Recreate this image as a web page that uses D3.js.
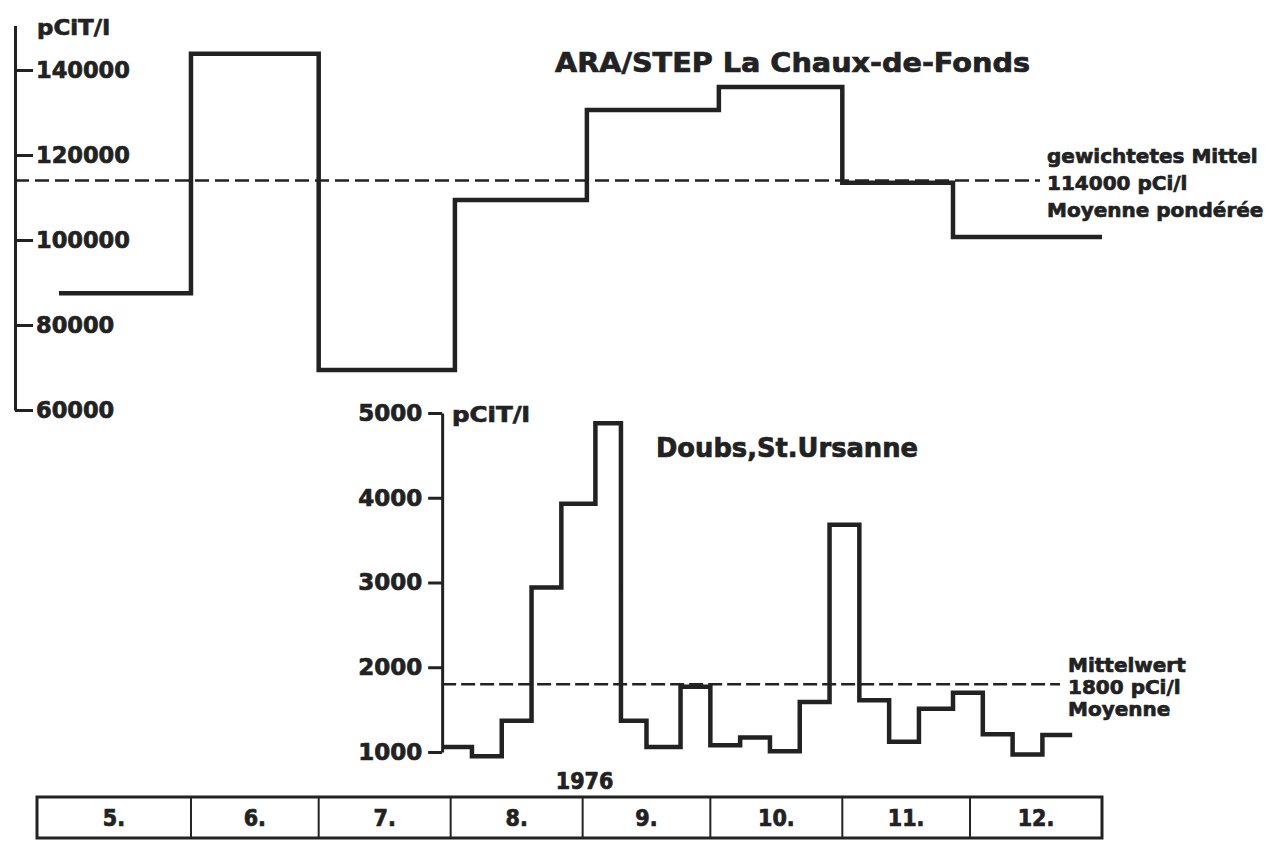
<!DOCTYPE html>
<html>
<head>
<meta charset="utf-8">
<script src="https://cdn.jsdelivr.net/npm/d3@7"></script>
<style>
  html, body { margin: 0; padding: 0; background: #ffffff; }
  svg { display: block; }
  text { font-family: "DejaVu Sans", "Liberation Sans", sans-serif; font-weight: bold; fill: #222;
         stroke: #222; stroke-width: 0.7px; }
  .cond { font-family: "DejaVu Sans Condensed", "Liberation Sans Narrow", "DejaVu Sans", sans-serif; }
</style>
</head>
<body>
<div id="chart"></div>
<script>
// ---------------- DATA ----------------
// Months shown in the bottom band (year 1976)
const months = ["5.", "6.", "7.", "8.", "9.", "10.", "11.", "12."];
const monthStarts = ["1976-05-01", "1976-06-01", "1976-07-01", "1976-08-01", "1976-09-01",
                     "1976-10-01", "1976-11-01", "1976-12-01", "1977-01-01"];
const yearLabel = "1976";

// ARA/STEP La Chaux-de-Fonds (sampling periods, pCi T/l)
const topBreaks = ["1976-05-01", "1976-06-01", "1976-07-01", "1976-08-02", "1976-09-02",
                   "1976-10-03", "1976-11-01", "1976-11-27", "1977-01-01"];
const topValues = [87500, 143800, 69400, 109400, 130600, 136000, 113500, 100700];
const topTicks = [60000, 80000, 100000, 120000, 140000];
const topMean = 114000;
const topTitle = "ARA/STEP La Chaux-de-Fonds";
const topMeanLabel = ["gewichtetes Mittel", "114000 pCi/l", "Moyenne pondérée"];

// Doubs, St. Ursanne (weekly samples, pCi T/l)
const botBreaks = ["1976-07-30", "1976-08-06", "1976-08-13", "1976-08-20", "1976-08-27",
                   "1976-09-04", "1976-09-10", "1976-09-16", "1976-09-24", "1976-10-01",
                   "1976-10-08", "1976-10-15", "1976-10-22", "1976-10-29", "1976-11-05",
                   "1976-11-12", "1976-11-19", "1976-11-27", "1976-12-04", "1976-12-11",
                   "1976-12-18", "1976-12-25"];
const botValues = [1060, 950, 1370, 2940, 3930, 4880, 1370, 1060, 1770, 1080,
                   1170, 1010, 1590, 3680, 1610, 1120, 1510, 1700, 1210, 970, 1200];
const botTicks = [1000, 2000, 3000, 4000, 5000];
const botMean = 1800;
const botTitle = "Doubs,St.Ursanne";
const botMeanLabel = ["Mittelwert", "1800 pCi/l", "Moyenne"];

const unitLabel = "pCiT/l";

// ---------------- LAYOUT ----------------
const W = 1272, H = 854;
const ink = "#222";
const parse = d3.utcParse("%Y-%m-%d");

const svg = d3.select("#chart").append("svg")
  .attr("width", W).attr("height", H)
  .style("background", "#fff");

const x = d3.scaleUtc()
  .domain([parse(monthStarts[0]), parse(monthStarts[monthStarts.length - 1])])
  .range([59, 1102]);

const yTop = d3.scaleLinear().domain([60000, 150500]).range([410, 25.4]);
const yBot = d3.scaleLinear().domain([1000, 5000]).range([752, 413]);

function stepPoints(breaks, values) {
  const pts = values.map((v, i) => ({ d: parse(breaks[i]), v }));
  pts.push({ d: parse(breaks[breaks.length - 1]), v: values[values.length - 1] });
  return pts;
}

// ---------- top axis ----------
const topAxisX = 15;
const gTopAxis = svg.append("g")
  .attr("transform", `translate(${topAxisX},0)`)
  .call(d3.axisRight(yTop).tickValues(topTicks).tickSize(18).tickSizeOuter(0)
        .tickPadding(3).tickFormat(d3.format("d")));
gTopAxis.select(".domain").attr("stroke", ink).attr("stroke-width", 3);
gTopAxis.selectAll(".tick line").attr("stroke", ink).attr("stroke-width", 3);
gTopAxis.selectAll(".tick text")
  .attr("fill", ink).attr("stroke", ink).attr("stroke-width", 0.7)
  .style("font-size", "22.5px").style("font-weight", "bold")
  .style("font-family", "DejaVu Sans, sans-serif");

svg.append("text").text(unitLabel)
  .attr("x", 37).attr("y", 35)
  .attr("textLength", 73).attr("lengthAdjust", "spacingAndGlyphs")
  .style("font-size", "22px");

// top mean line
svg.append("line")
  .attr("x1", topAxisX).attr("x2", 1040)
  .attr("y1", yTop(topMean)).attr("y2", yTop(topMean))
  .attr("stroke", ink).attr("stroke-width", 2.5).attr("stroke-dasharray", "14,6");

// top step line
const lineTop = d3.line().x(d => x(d.d)).y(d => yTop(d.v)).curve(d3.curveStepAfter);
svg.append("path")
  .datum(stepPoints(topBreaks, topValues))
  .attr("d", lineTop)
  .attr("fill", "none").attr("stroke", ink).attr("stroke-width", 4.5)
  .attr("stroke-linejoin", "miter");

svg.append("text").text(topTitle)
  .attr("x", 555).attr("y", 72)
  .attr("textLength", 475).attr("lengthAdjust", "spacingAndGlyphs")
  .style("font-size", "27px");

topMeanLabel.forEach((t, i) => {
  svg.append("text").text(t)
    .attr("x", 1047).attr("y", 163 + i * 27)
    .style("font-size", "20px");
});

// ---------- bottom axis ----------
const botAxisX = x(parse(botBreaks[0]));
const gBotAxis = svg.append("g")
  .attr("transform", `translate(${botAxisX},0)`)
  .call(d3.axisLeft(yBot).tickValues(botTicks).tickSize(14).tickSizeOuter(0)
        .tickPadding(6).tickFormat(d3.format("d")));
gBotAxis.select(".domain").attr("stroke", ink).attr("stroke-width", 3);
gBotAxis.selectAll(".tick line").attr("stroke", ink).attr("stroke-width", 3);
gBotAxis.selectAll(".tick text")
  .attr("fill", ink).attr("stroke", ink).attr("stroke-width", 0.7)
  .style("font-size", "23px").style("font-weight", "bold")
  .style("font-family", "DejaVu Sans, sans-serif");

svg.append("text").text(unitLabel)
  .attr("x", 452).attr("y", 422)
  .attr("textLength", 78).attr("lengthAdjust", "spacingAndGlyphs")
  .style("font-size", "21px");

svg.append("line")
  .attr("x1", botAxisX).attr("x2", 1060)
  .attr("y1", yBot(botMean)).attr("y2", yBot(botMean))
  .attr("stroke", ink).attr("stroke-width", 2.5).attr("stroke-dasharray", "14,5");

const lineBot = d3.line().x(d => x(d.d)).y(d => yBot(d.v)).curve(d3.curveStepAfter);
svg.append("path")
  .datum(stepPoints(botBreaks, botValues))
  .attr("d", lineBot)
  .attr("fill", "none").attr("stroke", ink).attr("stroke-width", 4.5)
  .attr("stroke-linejoin", "miter");

svg.append("text").text(botTitle)
  .attr("x", 656).attr("y", 457)
  .attr("textLength", 262).attr("lengthAdjust", "spacingAndGlyphs")
  .style("font-size", "26px");

botMeanLabel.forEach((t, i) => {
  svg.append("text").text(t)
    .attr("x", 1068).attr("y", 672 + i * 22)
    .style("font-size", "20px");
});

// ---------- month band ----------
const boxTop = 797, boxBot = 838;
const edges = monthStarts.map(s => x(parse(s)));
edges[0] = edges[0] - 22; // May box extends left of May 1
const gBand = svg.append("g");
gBand.append("rect")
  .attr("x", edges[0]).attr("y", boxTop)
  .attr("width", edges[edges.length - 1] - edges[0]).attr("height", boxBot - boxTop)
  .attr("fill", "none").attr("stroke", ink).attr("stroke-width", 3);
gBand.selectAll("line.div")
  .data(edges.slice(1, -1))
  .join("line").attr("class", "div")
  .attr("x1", d => d).attr("x2", d => d)
  .attr("y1", boxTop).attr("y2", boxBot)
  .attr("stroke", ink).attr("stroke-width", 2);
gBand.selectAll("text.m")
  .data(months)
  .join("text").attr("class", "m cond")
  .attr("x", (d, i) => (edges[i] + edges[i + 1]) / 2)
  .attr("y", 826)
  .attr("text-anchor", "middle")
  .style("font-size", "23px")
  .text(d => d);

svg.append("text").attr("class", "cond").text(yearLabel)
  .attr("x", x(parse("1976-09-01")) + 2).attr("y", 789)
  .attr("text-anchor", "middle")
  .style("font-size", "23px");
</script>
</body>
</html>
